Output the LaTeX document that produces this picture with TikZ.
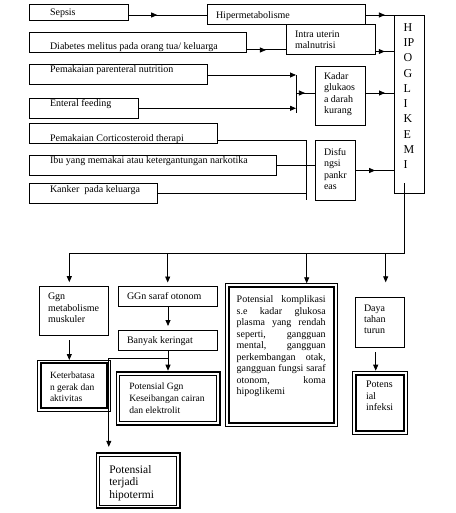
\documentclass[tikz,border=0pt]{standalone}
\usepackage{fontspec}
\setmainfont{Liberation Serif}
\usetikzlibrary{arrows.meta,calc,decorations.markings}
\newcommand\bx[6]{\node[#6, minimum width={#4-#2}, minimum height={#5-#3}] (#1) at (#2,#3) {};}
\tikzset{
  box/.style={draw, line width=0.8pt, inner sep=0pt, outer sep=0pt, anchor=north west},
  dblin/.style={box, line width=0.9pt, path picture={\draw[line width=1.9pt] ([shift={(3.3pt,-3.3pt)}]path picture bounding box.north west) rectangle ([shift={(-3.3pt,3.3pt)}]path picture bounding box.south east);}},
  dblout/.style={box, line width=1.9pt, path picture={\draw[line width=0.9pt] ([shift={(3.3pt,-3.3pt)}]path picture bounding box.north west) rectangle ([shift={(-3.3pt,3.3pt)}]path picture bounding box.south east);}},
  txt/.style={inner sep=0pt, outer sep=0pt, anchor=north west, align=left, font=\fontsize{10}{11.5}\selectfont},
  conn/.style={line width=0.8pt},
  arr/.style={conn, -{Triangle[length=6pt,width=5pt]}},
  mid/.style={conn, postaction={decorate}, decoration={markings, mark=at position #1 with {\arrow{Triangle[length=6pt,width=5pt]}}}},
}
\begin{document}
\begin{tikzpicture}[x=1pt,y=-1pt]
\fill[white] (0,0) rectangle (455,513);
% boxes
\bx{sepsis}{29}{4.3}{128}{20}{box}
\bx{hiper}{207}{4.7}{365.5}{24.3}{box}
\bx{diab}{29}{32.3}{246.7}{52.3}{box}
\bx{intra}{286}{24.3}{375}{54}{box}
\bx{par}{29}{64.3}{207.3}{84}{box}
\bx{ent}{29}{98.3}{138.3}{118.3}{box}
\bx{kadar}{315}{66}{365.7}{125.3}{box}
\bx{cort}{29}{123.3}{217.3}{143.3}{box}
\bx{nark}{29}{155}{276.7}{175}{box}
\bx{kank}{29}{183.3}{157.3}{203.3}{box}
\bx{disf}{315.5}{140}{355.7}{200.7}{box}
\bx{hipo}{394.5}{15}{424.3}{193.3}{box}
\bx{ggnmet}{39.5}{286.7}{108.7}{335.7}{box}
\bx{ggnsaraf}{118.3}{286}{217.7}{306}{box}
\bx{banyak}{118.3}{330}{217.7}{350}{box}
\bx{keter}{37.3}{360}{110.7}{411}{dblin}
\bx{potggn}{116.5}{371.7}{220}{425}{dblout}
\bx{kompl}{225.5}{283.3}{337.7}{426.3}{dblin}
\bx{daya}{355}{297.3}{404.3}{347.3}{box}
\bx{infeksi}{352.3}{371.7}{407}{434}{dblin}
\bx{hipot}{96.5}{453.3}{180}{508.3}{dblout}
% texts
\node[txt] (tsepsis) at (50,9) {Sepsis};
\node[txt] (thiper) at (216,11.5) {Hipermetabolisme};
\node[txt] (tdiab) at (50,42.5) {Diabetes melitus pada orang tua/ keluarga};
\node[txt, font=\fontsize{10}{11}\selectfont] (tintra) at (295,31) {Intra uterin\\malnutrisi};
\node[txt] (tpar) at (50,65.5) {Pemakaian parenteral nutrition};
\node[txt] (tent) at (50,99.3) {Enteral feeding};
\node[txt] (tkadar) at (324,72.5) {Kadar\\glukaos\\a darah\\kurang};
\node[txt] (tcort) at (50,134.3) {Pemakaian Corticosteroid therapi};
\node[txt] (tnark) at (50,156.7) {Ibu yang memakai atau ketergantungan narkotika};
\node[txt] (tkank) at (50,185.7) {Kanker\ \ pada keluarga};
\node[txt] (tdisf) at (324,148.3) {Disfu\\ngsi\\pankr\\eas};
\node[txt, font=\fontsize{12}{15.3}\selectfont] (thipo) at (403.5,23.3) {H\\IP\\O\\G\\L\\I\\K\\E\\M\\I};
\node[txt, font=\fontsize{10}{11.7}\selectfont] (tggnmet) at (48,292.7) {Ggn\\metabolisme\\muskuler};
\node[txt] (tsaraf) at (127,292.7) {GGn saraf otonom};
\node[txt] (tbanyak) at (127,336.7) {Banyak keringat};
\node[txt, font=\fontsize{9.5}{11.5}\selectfont] (tketer) at (50,372) {Keterbatasa\\n gerak dan\\aktivitas};
\node[txt, font=\fontsize{9.6}{12}\selectfont] (tpotggn) at (129.3,382.7) {Potensial Ggn\\Keseibangan cairan\\dan elektrolit};
\node[txt] (tkompl) at (236.7,296) {\makebox[89pt][s]{Potensial komplikasi}\\
  \makebox[89pt][s]{s.e kadar glukosa}\\
  \makebox[89pt][s]{plasma yang rendah}\\
  \makebox[89pt][s]{seperti, gangguan}\\
  \makebox[89pt][s]{mental, gangguan}\\
  \makebox[89pt][s]{perkembangan otak,}\\
  \makebox[89pt][s]{gangguan fungsi saraf}\\
  \makebox[89pt][s]{otonom, koma}\\
  hipoglikemi};
\node[txt, font=\fontsize{10}{11.2}\selectfont] (tdaya) at (364,305) {Daya\\tahan\\turun};
\node[txt] (tinfeksi) at (366,381) {Potens\\ial\\infeksi};
\node[txt, font=\fontsize{11.5}{12.3}\selectfont] (thipot) at (109.3,465.7) {Potensial\\terjadi\\hipotermi};
% connectors, top part
\draw[mid=0.37] (sepsis.east |- 0,15) -- (hiper.west |- 0,15);
\draw[mid=0.67] (hiper.east |- 0,15) -- (hipo.west |- 0,15);
\draw[conn, double, double distance=0.6pt, line width=0.5pt] (diab.east |- 0,50) -- (intra.west |- 0,50);
\path[mid=0.49] (diab.east |- 0,50) -- (intra.west |- 0,50);
\draw[mid=0.5] (intra.east |- 0,51.5) -- (hipo.west |- 0,51.5);
\coordinate (jk) at (296,93);
\draw[arr] (par.east |- 0,75) -- (jk |- 0,75);
\draw[arr] (ent.east |- 0,108.3) -- (jk |- 0,108.3);
\draw[conn] (jk |- 0,75) -- (jk |- 0,113.3);
\draw[mid=0.47] (jk) -- (kadar.west |- jk);
\draw[mid=0.67] (kadar.east |- jk) -- (hipo.west |- jk);
\coordinate (jd) at (306.7,200);
\draw[conn] (cort.east |- 0,140.5) -| (jd);
\draw[conn] (nark.east |- 0,165) -- (disf.west |- 0,165);
\draw[conn] (kank.east |- 0,193.3) -- (jd |- 0,193.3);
\draw[mid=0.5] (disf.east |- 0,170.5) -- (hipo.west |- 0,170.5);
% bus
\coordinate (b1) at (69.3,253);
\coordinate (b2) at (167.7,253);
\coordinate (b3) at (306.7,253);
\coordinate (b4) at (385.7,253);
\coordinate (b5) at (404.3,253);
\draw[conn] ([xshift=9.8pt,yshift=10pt]hipo.south west) -- (b5) -- (b1);
\draw[arr] (b1) -- ($(b1 |- ggnmet.north)+(0,-4.5)$);
\draw[arr] (b2) -- ($(b2 |- ggnsaraf.north)+(0,-3.5)$);
\draw[arr] (b3) -- (b3 |- kompl.north);
\draw[arr] (b4) -- ($(b4 |- daya.north)+(0,-15)$);
% lower part
\draw[arr] ($(b1 |- ggnmet.south)+(0,4.3)$) -- (b1 |- keter.north);
\draw[arr] (ggnsaraf.south) -- ($(banyak.north)+(0,-4)$);
\draw[arr] (banyak.south) -- ($(banyak.south |- potggn.north)+(0,-1)$);
\coordinate (sp) at ($(banyak.south)+(0,8.3)$);
\draw[arr] (sp) -| ($(108.8,0 |- hipot.north)+(0,-6.5)$);
\draw[arr] ($(375.7,0 |- daya.south)+(0,5)$) -- ($(375.7,0 |- infeksi.north)+(0,-1)$);
\end{tikzpicture}
\end{document}
